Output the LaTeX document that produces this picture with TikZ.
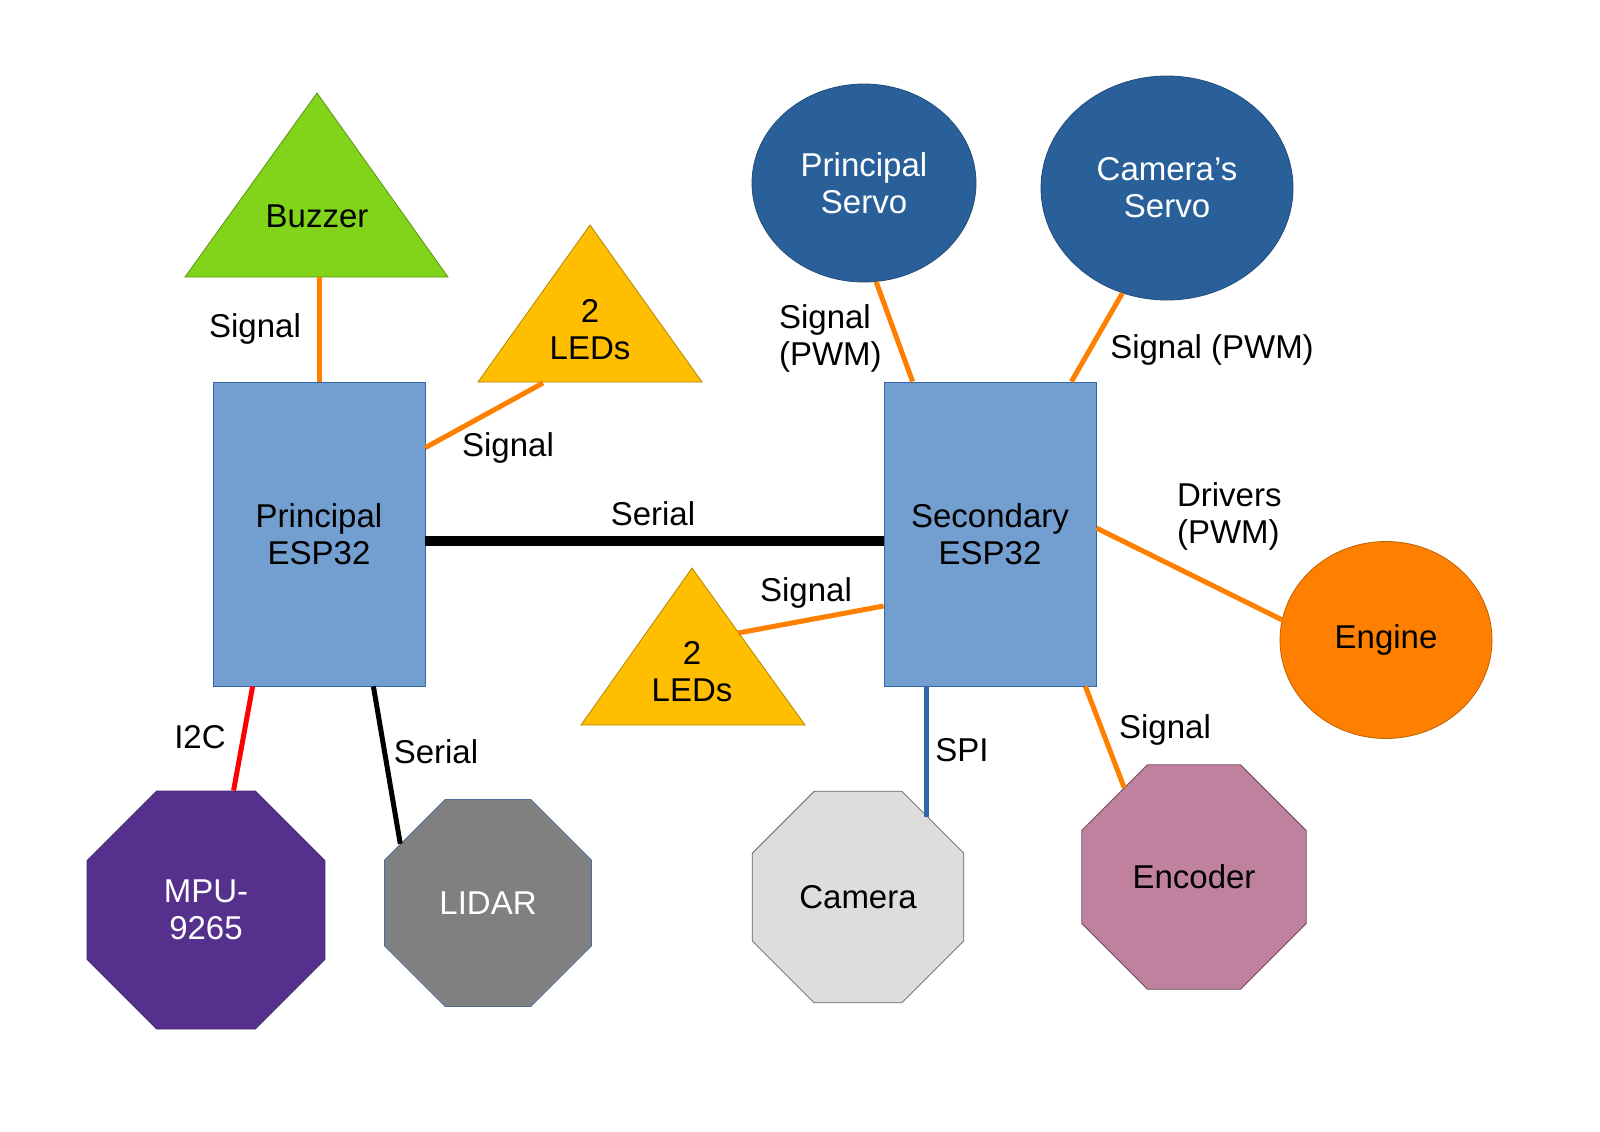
\documentclass[tikz,border=0pt]{standalone}
\usepackage{fontspec}
\setmainfont{Liberation Sans}
\usetikzlibrary{positioning, shapes, arrows}
\definecolor{boardblue}{HTML}{729FCF}
\definecolor{boardline}{HTML}{3465A4}
\definecolor{servoblue}{HTML}{2A6099}
\definecolor{buzzgreen}{HTML}{81D41A}
\definecolor{ledyellow}{HTML}{FFBF00}
\definecolor{engineorange}{HTML}{FF8000}
\definecolor{mpupurple}{HTML}{55308D}
\definecolor{lidargray}{HTML}{808080}
\definecolor{camgray}{HTML}{DDDDDD}
\definecolor{encpink}{HTML}{BF819E}
\definecolor{wireorange}{HTML}{FF8000}

\begin{document}
\begin{tikzpicture}[x=0.5pt,y=-0.5pt]
\tikzstyle{every node}=[font=\fontsize{16.5}{18.5}\selectfont, align=center];
\tikzstyle{board}=[draw=boardline, line width=0.4pt, fill=boardblue, minimum width=106pt, minimum height=152pt, inner sep=0pt];
\tikzstyle{servo}=[ellipse, draw=servoblue!80!black, line width=0.4pt, fill=servoblue, text=white, inner sep=0pt];
\tikzstyle{octa}=[regular polygon, regular polygon sides=8, line width=0.4pt, inner sep=0pt];
\tikzstyle{tri}=[line width=0.4pt];
\tikzstyle{wire}=[line width=2.5pt];
\tikzstyle{sig}=[wire, color=wireorange];
\useasboundingbox (0,0) rectangle (1600,1131);

\path[tri, fill=buzzgreen, draw=buzzgreen!70!black] (317,93) -- (448,277) -- (185,277) -- cycle;
\path[tri, fill=ledyellow, draw=ledyellow!70!black] (590,225) -- (702,382) -- (478,382) -- cycle;
\path[tri, fill=ledyellow, draw=ledyellow!70!black] (692,568) -- (805,725) -- (581,725) -- cycle;
\coordinate (bzbase) at (319,277);
\coordinate (ledsa) at (543,383);
\coordinate (ledsb) at (738,633);
\coordinate (camspi) at (926,817);

\path (317,216) node (buzzer) {Buzzer};
\path (590,330) node (leda) {2\\LEDs};
\path (692,672) node (ledb) {2\\LEDs};
\path (319,534) node[board] (pesp) {Principal\\ESP32};
\path (990,534) node[board] (sesp) {Secondary\\ESP32};
\path (864,183) node[servo, minimum width=112pt, minimum height=99pt] (pservo) {Principal\\Servo};
\path (1167,188) node[servo, minimum width=126pt, minimum height=112pt] (cservo) {Camera’s\\Servo};
\path (1386,640) node[ellipse, draw=engineorange!75!black, line width=0.4pt, fill=engineorange, minimum width=106pt, minimum height=98.5pt] (engine) {Engine};
\path (206,910) node[octa, fill=mpupurple, draw=mpupurple!80!black, text=white, minimum size=128.8pt] (mpu) {MPU-\\9265};
\path (488,903) node[octa, fill=lidargray, draw=boardline!70!lidargray, text=white, minimum size=112pt] (lidar) {LIDAR};
\path (858,897) node[octa, fill=camgray, draw=black!60, minimum size=114.5pt] (camera) {Camera};
\path (1194,877) node[octa, fill=encpink, draw=encpink!60!black, minimum size=121.5pt] (encoder) {Encoder};

\draw[sig] (bzbase) -- (pesp.north);
\draw[sig] ([yshift=-33pt]pesp.north east) -- (ledsa);
\draw[wire, line width=5pt, black] ([yshift=-3.5pt]pesp.east) -- ([yshift=-3.5pt]sesp.west);
\draw[sig] (pservo.-83) -- ([xshift=14.5pt]sesp.north west);
\draw[sig] (cservo.-113) -- ([xshift=-12.5pt]sesp.north east);
\draw[sig] ([yshift=3pt]sesp.east) -- (engine.169);
\draw[sig] ([yshift=-36pt]sesp.west) -- (ledsb);
\draw[wire, color=boardline] (sesp.south -| camspi) -- (camspi);
\draw[sig] ([xshift=-5.5pt]sesp.south east) -- (encoder.128);
\draw[wire, red] ([xshift=20pt]pesp.south west) -- (mpu.77);
\draw[wire, black] ([xshift=-26pt]pesp.south east) -- (lidar.146);

\path (255,329) node (l1) {Signal};
\path (508,448) node (l2) {Signal};
\path (653,514) node (l3) {Serial};
\path (772,338) node[anchor=west, align=left] (l4) {Signal\\(PWM)};
\path (1212,350) node (l5) {Signal (PWM)};
\path (1170,516) node[anchor=west, align=left] (l6) {Drivers\\(PWM)};
\path (806,593) node (l7) {Signal};
\path (962,750) node (l8) {SPI};
\path (1165,730) node (l9) {Signal};
\path (200,737) node (l10) {I2C};
\path (436,752) node (l11) {Serial};
\end{tikzpicture}
\end{document}
